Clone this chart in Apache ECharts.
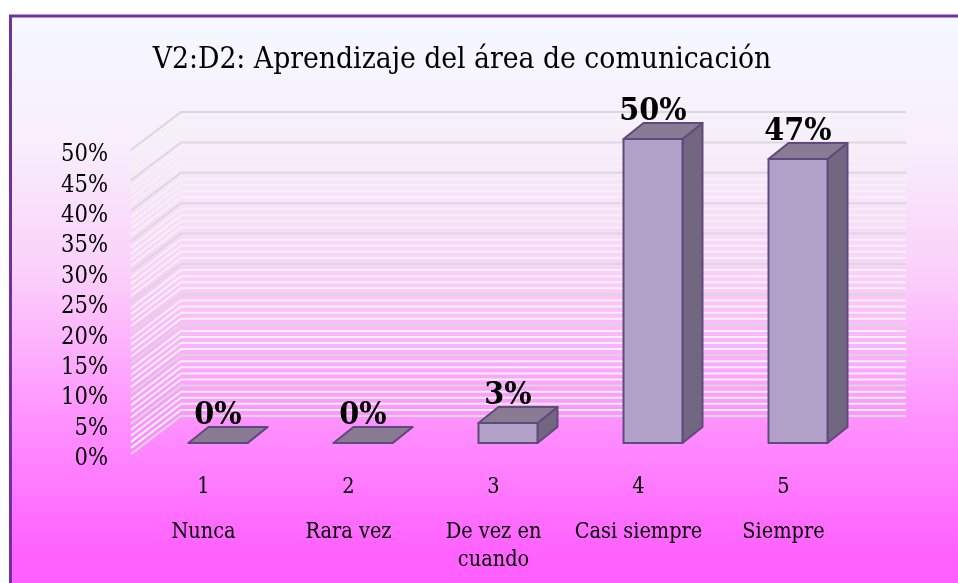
<!DOCTYPE html>
<html>
<head>
<meta charset="utf-8">
<style>html,body{margin:0;padding:0;background:#fff}#c{width:958px;height:583px}</style>
<script src="https://cdn.jsdelivr.net/npm/echarts@6/dist/echarts.min.js"></script>
</head>
<body>
<div id="c"></div>
<script>
const titleText = 'V2:D2: Aprendizaje del área de comunicación';
const scaleNumbers = ['1', '2', '3', '4', '5'];
const categories = ['Nunca', 'Rara vez', 'De vez en\ncuando', 'Casi siempre', 'Siempre'];
const percentValues = [0, 0, 3.3, 50, 46.7];
const percentLabels = ['0%', '0%', '3%', '50%', '47%'];
const gridValues = [0,1,2,3,4,5,6,7,8,9,10,11,12,13,14,15,16,17,18,19,20,21,22,23,24,25,26,27,28,29,30,31,32,33,34,35,36,37,38,39,40,41,42,43,44,45,46,47,48,49,50];

const FONT = '"DejaVu Serif Condensed", "DejaVu Serif", serif';
const WALL_DX = 50, WALL_DY = -38;
const BAR_W = 59, BAR_SHIFT_X = 14.5, BAR_SHIFT_Y = -11, DEPTH_X = 20, DEPTH_Y = -16;
const STROKE = '#604a7b';

function renderGrid(params, api) {
  const v = api.value(1);
  const cs = params.coordSys;
  const y = api.coord([0, v])[1];
  const x0 = cs.x, x1 = cs.x + WALL_DX, x2 = cs.x + cs.width + WALL_DX;
  const major = v % 5 === 0;
  return {
    type: 'polyline',
    z2: major ? 2 : 1,
    shape: { points: [[x0, y], [x1, y + WALL_DY], [x2, y + WALL_DY]] },
    style: { fill: null, stroke: major ? '#d9d9d9' : '#f2f2f2', lineWidth: 2 }
  };
}

function renderBar(params, api) {
  const c = api.coord([api.value(0), api.value(1)]);
  const base = api.coord([api.value(0), 0]);
  const xl = c[0] + BAR_SHIFT_X - BAR_W / 2, xr = xl + BAR_W;
  const yt = c[1] + BAR_SHIFT_Y, yb = base[1] + BAR_SHIFT_Y;
  const poly = (pts, fill) => ({
    type: 'polygon', shape: { points: pts },
    style: { fill, stroke: STROKE, lineWidth: 2, lineJoin: 'round' }
  });
  return {
    type: 'group',
    children: [
      poly([[xr, yb], [xr + DEPTH_X, yb + DEPTH_Y], [xr + DEPTH_X, yt + DEPTH_Y], [xr, yt]], '#716780'),
      poly([[xl, yt], [xl + DEPTH_X, yt + DEPTH_Y], [xr + DEPTH_X, yt + DEPTH_Y], [xr, yt]], '#887b93'),
      poly([[xl, yt], [xr, yt], [xr, yb], [xl, yb]], '#b1a0c7'),
      {
        type: 'text',
        style: {
          text: percentLabels[params.dataIndex],
          x: (xl + xr) / 2, y: yt - 27,
          align: 'center', verticalAlign: 'middle',
          font: 'bold 32px ' + FONT, fill: '#000'
        }
      }
    ]
  };
}

const chart = echarts.init(document.getElementById('c'), null, { renderer: 'canvas' });
chart.setOption({
  animation: false,
  backgroundColor: '#fff',
  title: {
    text: titleText, left: 457, top: 40, textAlign: 'center',
    textStyle: { fontFamily: FONT, fontSize: 29.7, fontWeight: 'normal', color: '#000' }
  },
  graphic: [{
    type: 'rect', z: -10, silent: true,
    shape: { x: 10.5, y: 16, width: 960, height: 580 },
    style: {
      stroke: '#7030a0', lineWidth: 3,
      fill: {
        type: 'linear', x: 0, y: 0, x2: 0, y2: 1,
        colorStops: [
          { offset: 0, color: '#f5f9ff' },
          { offset: 0.22, color: '#f8eefc' },
          { offset: 0.45, color: '#fbcffa' },
          { offset: 0.72, color: '#ff8cff' },
          { offset: 0.92, color: '#ff62ff' },
          { offset: 1, color: '#ff5fff' }
        ]
      }
    }
  }],
  grid: { left: 131, right: 102, top: 150, bottom: 129 },
  xAxis: [
    {
      type: 'category', data: scaleNumbers,
      axisLine: { show: false }, axisTick: { show: false },
      axisLabel: { interval: 0, margin: 22, color: '#000', fontFamily: FONT, fontSize: 21.5, verticalAlign: 'top' }
    },
    {
      type: 'category', data: categories, position: 'bottom', offset: 64,
      axisLine: { show: false }, axisTick: { show: false },
      axisLabel: { interval: 0, margin: 0, color: '#000', fontFamily: FONT, fontSize: 21.5, lineHeight: 28, verticalAlign: 'top' }
    }
  ],
  yAxis: {
    type: 'value', min: 0, max: 50, interval: 5,
    axisLine: { show: false }, axisTick: { show: false }, splitLine: { show: false },
    axisLabel: { margin: 23, color: '#000', fontFamily: FONT, fontSize: 23.5, verticalAlign: 'top', lineHeight: 10, formatter: '{value}%' }
  },
  series: [
    {
      type: 'custom', name: 'grid', silent: true, z: 1, clip: false,
      renderItem: renderGrid,
      encode: { x: 0, y: 1 },
      data: gridValues.map(v => [0, v])
    },
    {
      type: 'custom', name: 'Porcentaje', silent: true, z: 3, clip: false,
      renderItem: renderBar,
      encode: { x: 0, y: 1 },
      data: percentValues.map((v, i) => [i, v])
    }
  ]
});
</script>
</body>
</html>
